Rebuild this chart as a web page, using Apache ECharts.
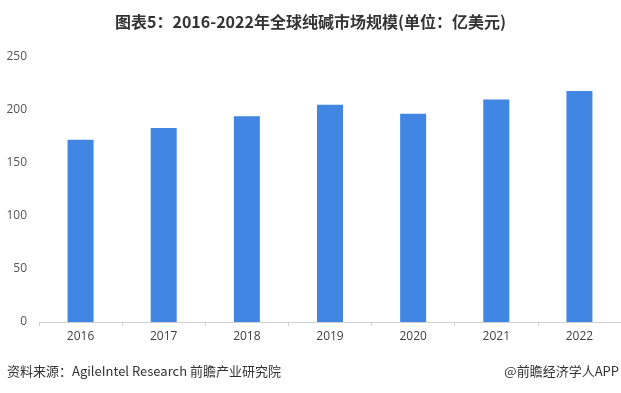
<!DOCTYPE html>
<html><head><meta charset="utf-8">
<script src="https://cdn.jsdelivr.net/npm/echarts@6/dist/echarts.min.js"></script>
<style>html,body{margin:0;padding:0;background:#fff;}#c{width:621px;height:393px;}</style>
</head><body><div id="c"></div>
<script>
var categories = ['2016','2017','2018','2019','2020','2021','2022'];
var values = [172, 183, 194, 205, 196.5, 210, 218];
var yTicks = [0, 50, 100, 150, 200, 250];
var titleText = '图表5：2016-2022年全球纯碱市场规模(单位：亿美元)';
var sourceText = '资料来源：AgileIntel Research 前瞻产业研究院';
var brandText = '@前瞻经济学人APP';

var chart = echarts.init(document.getElementById('c'), null, {renderer:'canvas'});
chart.setOption({
  animation:false,
  backgroundColor:'#fff',
  title:{text:titleText,left:'center',top:9,textStyle:{fontSize:16,fontWeight:'bold',color:'#333',fontFamily:'"Noto Sans CJK SC", sans-serif'}},
  graphic:[
    {type:'text',left:7,top:365,style:{text:sourceText,fontSize:13,fill:'#333',fontFamily:'"Noto Sans CJK SC", sans-serif'}},
    {type:'text',right:2,top:365,style:{text:brandText,fontSize:13,fill:'#333',fontFamily:'"Noto Sans CJK SC", sans-serif'}}
  ],
  grid:{left:39,right:-6,top:57,bottom:71,containLabel:false},
  xAxis:{type:'category',data:categories,
    axisLine:{lineStyle:{color:'#d0d0d0'}},
    axisTick:{show:true,length:4,lineStyle:{color:'#d0d0d0'}},
    axisLabel:{color:'#404040',fontSize:12,margin:9,fontFamily:'"Open Sans", sans-serif'}},
  yAxis:{type:'value',min:yTicks[0],max:yTicks[yTicks.length-1],interval:50,
    axisLine:{show:false},axisTick:{show:false},splitLine:{show:false},
    axisLabel:{color:'#555',fontSize:12,margin:12,fontFamily:'"Open Sans", sans-serif'}},
  series:[{type:'bar',data:values,barWidth:26,itemStyle:{color:'#4186E2'}}]
});
</script></body></html>
